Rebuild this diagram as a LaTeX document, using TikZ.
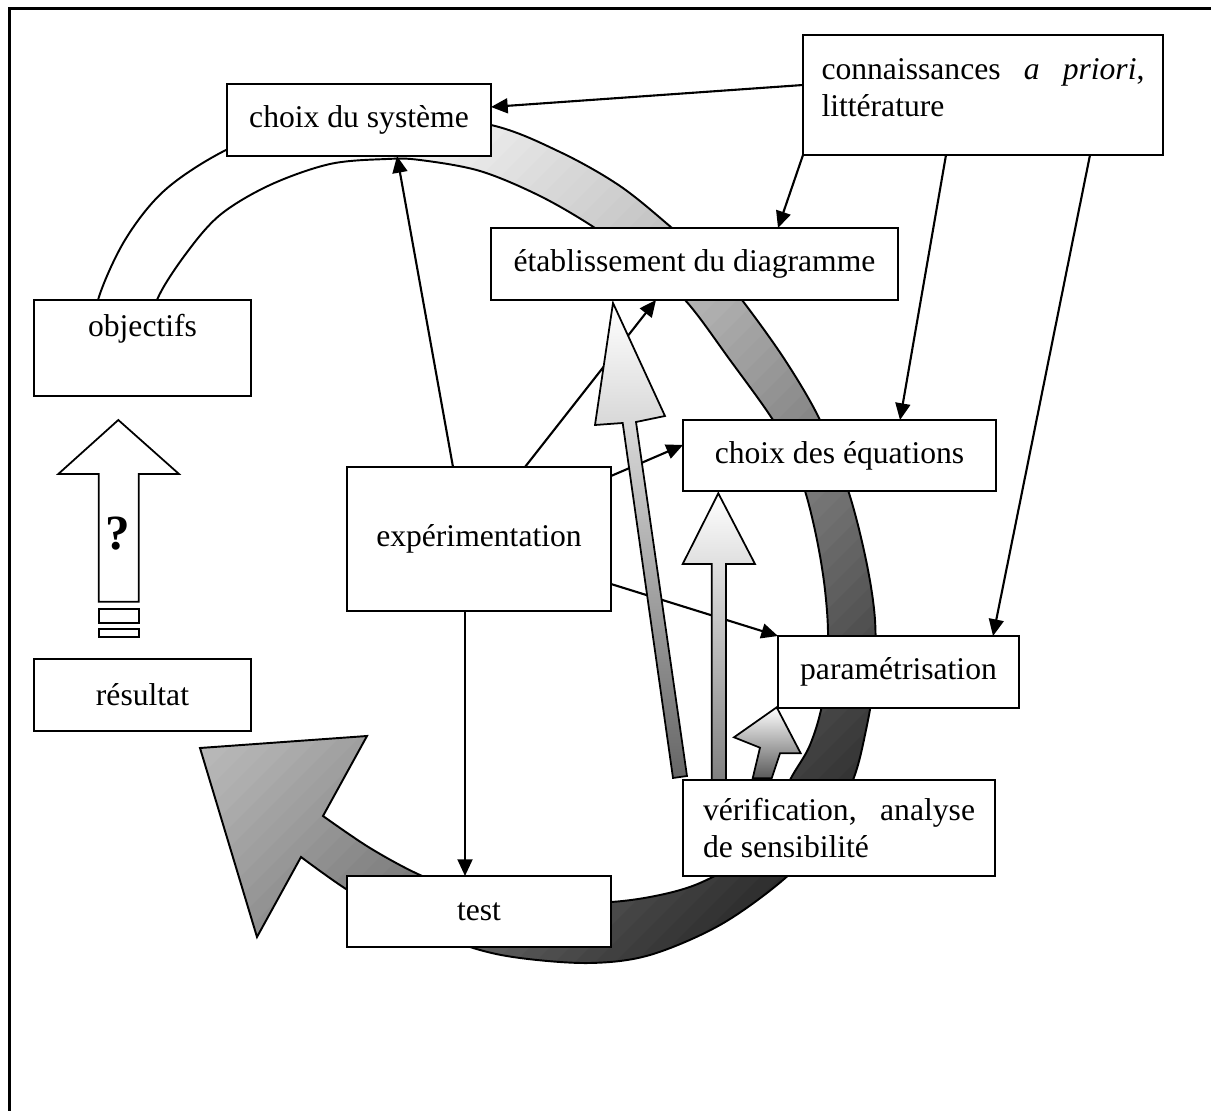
\documentclass[tikz,border=0pt]{standalone}
\usepackage{fontspec}
\setmainfont{Liberation Serif}
\usetikzlibrary{arrows.meta,calc}
\newlength{\px}\setlength{\px}{0.02cm}
\begin{document}
\begin{tikzpicture}[x=0.02cm, y=-0.02cm,
  box/.style={draw, fill=white, line width=1.3pt, inner sep=0pt, outer sep=0pt,
    anchor=north west, font=\fontsize{18pt}{21pt}\selectfont, align=center},
  link/.style={line width=1.2pt, -{Triangle[length=9.5pt,width=8.5pt]}},
  bandstyle/.style={draw, line width=1.1pt, path picture={
      \foreach \t in {160,180,...,1880} {
        \pgfmathsetmacro{\g}{min(86,max(0,(\t<1010) ? (\t-470)/540*31 :
          ((\t<1340) ? 31+(\t-1010)/330*25 : ((\t<1560) ? 56+(\t-1340)/220*19 : 75+(\t-1560)/140*11))))}
        \fill[black!\g] (\t-3,0) -- (\t+23,0) -- (\t+23-1300,1300) -- (\t-3-1300,1300) -- cycle;
      }}},
  blockarrow/.style={draw, line width=1pt, top color=white, bottom color=#1},
  outlinearrow/.style={draw, line width=1pt, fill=white}
]
\useasboundingbox (0,0) rectangle (1211,1111);
% frame (left and top edges)
\draw[line width=3\px] (9,1111) -- (9,9) -- (1211,9);

% big curved band arrow
\path[bandstyle]
  plot[smooth, tension=0.55] coordinates {(96,340) (98,300) (125,240) (165,190) (226,150) (300,122)
    (390,113) (491,125) (560,152) (620,186) (672,228) (710,262) (742,300) (785,360) (820,420)
    (848,490) (866,560) (875,620) (874,680) (866,730) (853,780) (825,835) (783,880) (720,925)
    (650,955) (590,963) (520,958) (470,947) (400,920) (346,889) (301,857)}
  -- (257,937) -- (200,748) -- (367,736)
  -- plot[smooth, tension=0.55] coordinates {(323,816) (370,848) (420,875) (470,893) (540,903)
    (611,902) (660,895) (700,883) (740,860) (770,825) (790,780) (810,745) (823,700) (828,640)
    (825,590) (817,540) (805,491) (790,455) (773,420) (730,360) (685,300) (640,262) (595,228)
    (540,196) (480,171) (420,160) (387,159) (330,164) (270,185) (220,215) (185,255) (157,300)
    (150,340)}
  -- cycle;

% boxes
\node[box, minimum width=264\px, minimum height=72\px] (sys) at (227,84) {choix du syst\`eme};
\node[box, minimum width=360\px, minimum height=120\px, align=justify, text width=323\px] (conn) at (803,35)
  {\hbox to 323\px{connaissances\hfill\textit{a}\hfill\textit{priori},}\\litt\'erature\rule[-8pt]{0pt}{0pt}};
\node[box, minimum width=407\px, minimum height=72\px] (etab) at (491,228) {\'etablissement du diagramme};
\node[box, minimum width=217\px, minimum height=96\px] (obj) at (34,300) {\strut objectifs\\\strut};
\node[box, minimum width=313\px, minimum height=71\px] (eq) at (683,420) {choix des \'equations};
\node[box, minimum width=264\px, minimum height=144\px] (exp) at (347,467) {exp\'erimentation};
\node[box, minimum width=241\px, minimum height=72\px] (param) at (778,636) {param\'etrisation};
\node[box, minimum width=217\px, minimum height=72\px] (res) at (34,659) {r\'esultat};
\node[box, minimum width=312\px, minimum height=96\px, align=justify, text width=272\px] (verif) at (683,780)
  {\hbox to 272\px{v\'erification,\hfill analyse}\\de sensibilit\'e};
\node[box, minimum width=264\px, minimum height=71\px] (test) at (347,876) {test};

% "?" outline arrow with equals sign
\path[outlinearrow] (98.7,601.7) -- (98.7,474) -- (58.3,474) -- (118.3,420) -- (179,474)
  -- (138.7,474) -- (138.7,601.7) -- cycle;
\draw[line width=1pt, fill=white] (98.7,608.7) rectangle (138.7,622.7);
\draw[line width=1pt, fill=white] (98.7,629.3) rectangle (138.7,636.7);
\node[font=\fontsize{28pt}{30pt}\selectfont\bfseries, inner sep=0pt] (q) at (118,534) {?};

% connectors
\draw[link] ($(conn.north west)+(0,50)$) -- ($(sys.north east)+(0,23)$);
\draw[link] (conn.south west) -- ($(etab.north west)+(287,0)$);
\draw[link] ($(conn.south west)+(143,0)$) -- ($(eq.north west)+(217,0)$);
\draw[link] ($(conn.south west)+(287,0)$) -- ($(param.north west)+(215,0)$);
\draw[link] ($(exp.north west)+(106,0)$) -- ($(sys.south west)+(170,0)$);
\draw[link] ($(exp.north west)+(178,0)$) -- ($(etab.south west)+(165,0)$);
\draw[link] ($(exp.north east)+(0,9)$) -- ($(eq.north west)+(0,25)$);
\draw[link] ($(exp.north east)+(0,117)$) -- (param.north west);
\draw[link] ($(exp.south west)+(118,0)$) -- ($(test.north west)+(118,0)$);

% gradient block arrows from verification
\path[blockarrow=black!60] (673,778) -- (622.7,423) -- (595,425) -- (613,303) -- (665,416)
  -- (636,422) -- (687,776) -- cycle;
\path[blockarrow=black!50] (711.7,780) -- (711.7,564) -- (682.7,564) -- (718.3,493.3) -- (755,564)
  -- (726,564) -- (726,780) -- cycle;
\path[blockarrow=black!65] (752.7,778.3) -- (760,747.7) -- (734,737.3) -- (776.7,707.3)
  -- (800.7,753.3) -- (780,753.3) -- (771.7,778.3) -- cycle;
\end{tikzpicture}
\end{document}
